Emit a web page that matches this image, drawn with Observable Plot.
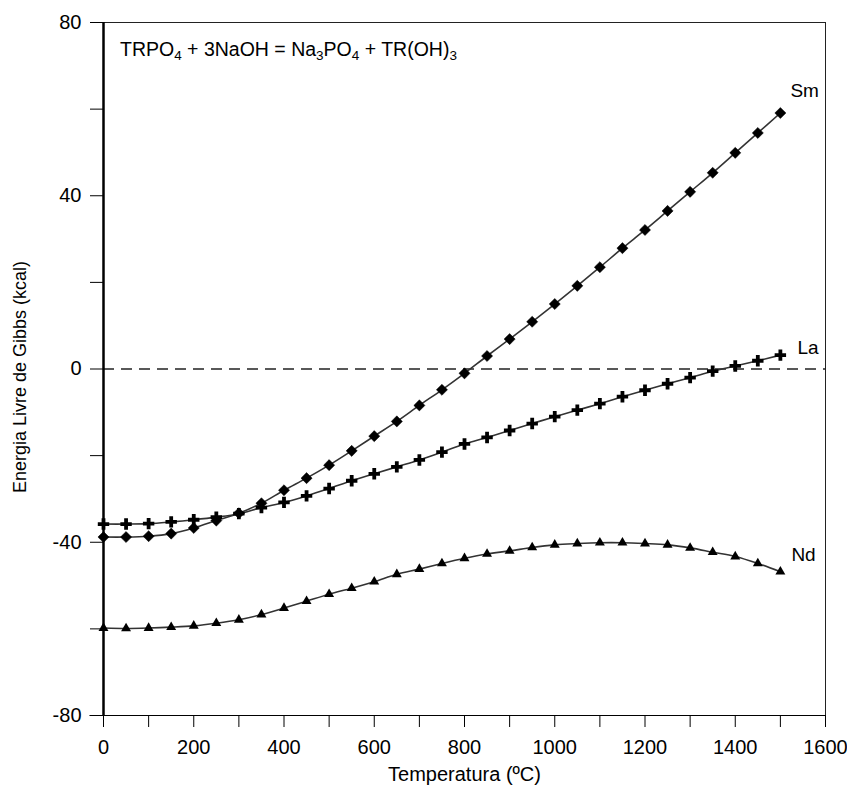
<!DOCTYPE html>
<html>
<head>
<meta charset="utf-8">
<script src="https://cdn.jsdelivr.net/npm/d3@7"></script>
<script src="https://cdn.jsdelivr.net/npm/@observablehq/plot@0.6"></script>
<style>
  html, body { margin: 0; padding: 0; background: #fff; }
  #chart svg { display: block; }
</style>
</head>
<body>
<div id="chart"></div>
<script>
// Temperatura (ºC)
const temperatura = [0, 50, 100, 150, 200, 250, 300, 350, 400, 450, 500, 550, 600, 650, 700, 750,
  800, 850, 900, 950, 1000, 1050, 1100, 1150, 1200, 1250, 1300, 1350, 1400, 1450, 1500];

// Energia livre de Gibbs (kcal) para cada terra rara
const sm = [-38.8, -38.8, -38.6, -38.0, -36.7, -35.0, -33.3, -31.0, -28.0, -25.2, -22.2, -18.9,
  -15.5, -12.1, -8.4, -4.8, -1.0, 3.0, 6.9, 10.9, 15.0, 19.2, 23.5, 27.9, 32.1, 36.5, 40.9,
  45.3, 49.9, 54.5, 59.1];
const la = [-35.8, -35.8, -35.7, -35.3, -34.8, -34.2, -33.4, -32.0, -30.8, -29.3, -27.6, -25.8,
  -24.2, -22.6, -21.0, -19.2, -17.3, -15.8, -14.2, -12.6, -11.0, -9.5, -8.0, -6.4, -4.9, -3.4,
  -2.0, -0.5, 0.7, 1.9, 3.2];
const nd = [-59.8, -59.9, -59.8, -59.6, -59.3, -58.7, -57.9, -56.7, -55.2, -53.6, -52.0, -50.6,
  -49.1, -47.4, -46.2, -44.9, -43.7, -42.7, -42.0, -41.2, -40.6, -40.3, -40.1, -40.1, -40.3,
  -40.6, -41.3, -42.3, -43.3, -44.9, -46.8];

const series = ["Sm", "La", "Nd"];
const xTicks = [0, 100, 200, 300, 400, 500, 600, 700, 800, 900, 1000, 1100, 1200, 1300, 1400, 1500, 1600];
const yTicks = [-80, -60, -40, -20, 0, 20, 40, 60, 80];

const valores = {Sm: sm, La: la, Nd: nd};
const rows = series.flatMap(s => temperatura.map((t, i) => ({s, t, g: valores[s][i]})));
const bySeries = s => rows.filter(d => d.s === s);
const last = s => rows.filter(d => d.s === s).slice(-1);

const font = "'Liberation Sans', Arial, sans-serif";

const plot = Plot.plot({
  width: 847,
  height: 785,
  marginLeft: 103,
  marginRight: 22,
  marginTop: 22,
  marginBottom: 70,
  style: {fontFamily: font, fontSize: "19px", color: "#000", background: "#fff"},
  x: {domain: [0, 1600]},
  y: {domain: [-80, 80]},
  marks: [
    Plot.frame({stroke: "#222", strokeWidth: 1}),
    Plot.ruleY([0], {stroke: "#222", strokeWidth: 1.4, strokeDasharray: "11,7"}),
    Plot.axisX({ticks: xTicks, tickSize: 12, tickPadding: 12, stroke: "#000", fontSize: 20,
      tickFormat: d => d % 200 === 0 ? String(d) : "", label: null}),
    Plot.axisY({ticks: yTicks, tickSize: 13, tickPadding: 9, stroke: "#000", fontSize: 20,
      tickFormat: d => d % 40 === 0 ? String(d) : "", label: null}),
    // títulos dos eixos
    Plot.text(["Temperatura (ºC)"], {frameAnchor: "bottom", dy: 59, lineAnchor: "middle", fontSize: 20}),
    Plot.text(["Energia Livre de Gibbs (kcal)"], {frameAnchor: "left", dx: -83, dy: 8, rotate: -90,
      textAnchor: "middle", lineAnchor: "middle", fontSize: 18}),
    Plot.ruleY([-80], {x1: -30, x2: 1600, stroke: "#000", strokeWidth: 1.2, clip: false}),
    Plot.ruleX([0], {y1: -80, y2: 80, stroke: "#000", strokeWidth: 2.5}),
    // curvas suavizadas
    ...series.map(s => Plot.line(bySeries(s), {x: "t", y: "g", curve: "catmull-rom",
      stroke: "#333", strokeWidth: 1.6})),
    // marcadores
    Plot.dot(bySeries("Sm"), {x: "t", y: "g", symbol: "diamond2", r: 5, fill: "#000", stroke: "#000", strokeWidth: 0.5}),
    Plot.dot(bySeries("La"), {x: "t", y: "g", symbol: "cross", r: 4.8, fill: "#000", stroke: "none"}),
    Plot.dot(bySeries("Nd"), {x: "t", y: "g", symbol: "triangle", r: 3.7, fill: "#000", stroke: "none"}),
    // rótulos das séries
    Plot.text(last("Sm"), {x: "t", y: "g", text: "s", dx: 10, dy: -22, textAnchor: "start", fontSize: 19}),
    Plot.text(last("La"), {x: "t", y: "g", text: "s", dx: 17, dy: -7, textAnchor: "start", fontSize: 19}),
    Plot.text(last("Nd"), {x: "t", y: "g", text: "s", dx: 11, dy: -17, textAnchor: "start", fontSize: 19})
  ]
});

// equação da reação, com índices subscritos
const eq = d3.select(plot).append("text")
  .attr("x", 120).attr("y", 56)
  .attr("text-anchor", "start")
  .attr("font-family", font).attr("font-size", 19.5).attr("fill", "#000");
const parts = [["TRPO"], ["4", true], [" + 3NaOH = Na"], ["3", true], ["PO"], ["4", true], [" + TR(OH)"], ["3", true]];
let prevSub = false;
for (const [txt, sub] of parts) {
  const ts = eq.append("tspan").text(txt);
  if (sub) ts.attr("font-size", 13.5).attr("dy", 4);
  else if (prevSub) ts.attr("dy", -4);
  prevSub = !!sub;
}

document.getElementById("chart").append(plot);
</script>
</body>
</html>
